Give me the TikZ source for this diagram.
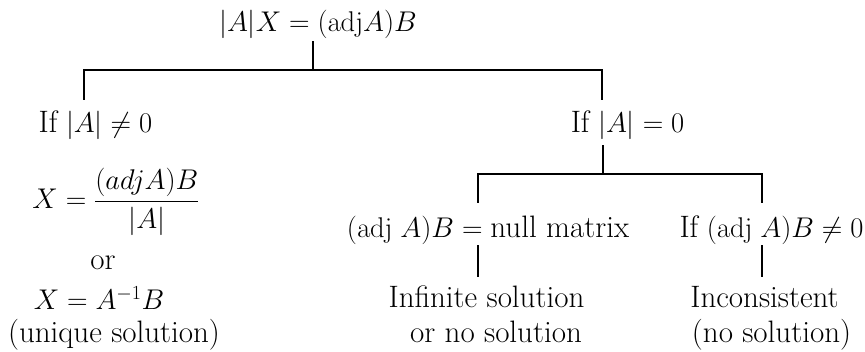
\RequirePackage{fix-cm}
\documentclass[tikz,border=0pt]{standalone}
\usepackage{amsmath}
\newcommand\tx[1]{{\fontsize{31pt}{36pt}\selectfont #1}}
\begin{document}
\begin{tikzpicture}[x=1pt,y=1pt,
  lbl/.style={anchor=base,inner sep=0pt,font=\fontsize{28.5pt}{33pt}\selectfont},
  conn/.style={line width=2.2pt}]
\useasboundingbox (0,0) rectangle (865,-352);
% nodes
\node[lbl,text height=20pt,text depth=9pt] (t) at (318,-32) {$|A|X=(\mathrm{adj}A)B$};
\node[lbl,text height=33pt,text depth=5pt] (l1) at (95.5,-133) {\tx{If} $|A|\neq 0$};
\node[lbl,text height=33pt,text depth=12pt] (r1) at (627.5,-133) {\tx{If} $|A|=0$};
\node[lbl] (f) at (116,-209) {$\displaystyle X=\frac{(adjA)B}{|A|}$};
\node[lbl] (or) at (103,-270) {\tx{or}};
\node[lbl] (inv) at (99,-310) {$X=A^{-1}B$};
\node[lbl] (uq) at (114,-343) {\tx{(unique solution)}};
\node[lbl,text height=35pt,text depth=7pt] (m1) at (488,-238) {$(\mathrm{adj}\;A)B=\text{\tx{null matrix}}$};
\node[lbl,text height=35pt,text depth=7pt] (r2) at (771.5,-238) {\tx{If} $(\mathrm{adj}\;A)B\neq 0$};
\node[lbl,text height=31pt,text depth=7pt] (m2) at (486.5,-308) {\tx{Infinite solution}};
\node[lbl] (m3) at (496,-343) {\tx{or no solution}};
\node[lbl,text height=31pt,text depth=7pt] (r3) at (764.5,-308) {\tx{Inconsistent}};
\node[lbl] (r4) at (771.5,-343) {\tx{(no solution)}};
% junctions
\coordinate (b1) at (313,-70);
\coordinate (b2) at (603,-174);
% connectors
\draw[conn] (t.south -| b1) -- (b1);
\draw[conn] ([xshift=-11.5pt]l1.north) |- (b1) -| ([xshift=-25.5pt]r1.north);
\draw[conn] (r1.south -| b2) -- (b2);
\draw[conn] ([xshift=-10pt]m1.north) |- (b2) -| ([xshift=-9.5pt]r2.north);
\draw[conn] ([xshift=-10pt]m1.south) -- ([xshift=-10pt]m1.south |- m2.north);
\draw[conn] ([xshift=-9.5pt]r2.south) -- ([xshift=-9.5pt]r2.south |- r3.north);
\end{tikzpicture}
\end{document}
